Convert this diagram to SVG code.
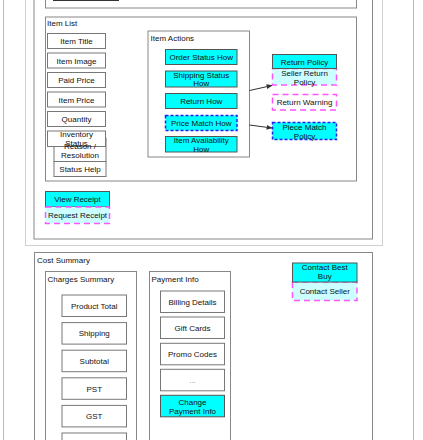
<svg xmlns="http://www.w3.org/2000/svg" width="423" height="440" viewBox="0 0 423 440">
<style>
text{font-family:"Liberation Sans",Arial,sans-serif;font-size:8px;fill:#111;}
.c{text-anchor:middle;}
.box{fill:#fff;stroke:#888;stroke-width:1;}
.cont{fill:none;stroke:#888;stroke-width:1;}
.field{fill:#fff;stroke:#777;stroke-width:1;}
.cyan{fill:#00ffff;stroke:#555;stroke-width:1;}
.lc{fill:#ccffff;stroke:#ff55ff;stroke-width:1.5;stroke-dasharray:6 4;}
.wm{fill:#fff;stroke:#ff55ff;stroke-width:1.5;stroke-dasharray:6 4;}
.bd{fill:#00ffff;stroke:#2222ee;stroke-width:1.5;stroke-dasharray:3 2;}
.conn{fill:none;stroke:#333;stroke-width:1;}
</style>
<defs>
<marker id="ah" viewBox="0 0 10 10" refX="9" refY="5" markerWidth="6" markerHeight="6" orient="auto" markerUnits="userSpaceOnUse">
<path d="M0,1 L10,5 L0,9 Z" fill="#333"/>
</marker>
</defs>
<rect width="423" height="440" fill="#fff"/>
<g id="outer">
<rect x="3.5" y="-20" width="410" height="490" fill="none" stroke="#bbb"/>
<rect x="25.5" y="-20" width="357" height="265.5" fill="none" stroke="#d0d0d0"/>
<rect x="34" y="-20" width="338.5" height="259" fill="none" stroke="#888"/>
</g>
<g id="top-box">
<rect x="45.5" y="-20" width="311" height="28" class="cont"/>
<rect x="53.5" y="-20" width="65" height="20.5" fill="none" stroke="#333"/>
</g>
<g id="item-list">
<rect x="45.5" y="17" width="311" height="164" class="cont"/>
<text x="47" y="25.5">Item List</text>
</g>
<g id="item-title"><rect x="47.5" y="33.5" width="58" height="15" class="field"/><text class="c" x="76.5" y="44">Item Title</text></g>
<g id="item-image"><rect x="47.5" y="53" width="58" height="15" class="field"/><text class="c" x="76.5" y="63.5">Item Image</text></g>
<g id="paid-price"><rect x="47.5" y="72.5" width="58" height="15" class="field"/><text class="c" x="76.5" y="83">Paid Price</text></g>
<g id="item-price"><rect x="47.5" y="92" width="58" height="15" class="field"/><text class="c" x="76.5" y="102.5">Item Price</text></g>
<g id="quantity"><rect x="47.5" y="111.5" width="58" height="15" class="field"/><text class="c" x="76.5" y="122">Quantity</text></g>
<g id="reason-resolution"><rect x="54" y="138" width="52" height="23.5" class="field"/></g>
<g id="inventory-status"><rect x="47.5" y="131" width="58" height="15.5" class="field"/><text class="c" x="76.5" y="137">Inventory</text><text class="c" x="76.5" y="145.5">Status</text></g>
<g id="reason-resolution-text"><text class="c" x="80" y="149">Reason /</text><text class="c" x="80" y="158">Resolution</text></g>
<g id="status-help"><rect x="54" y="161.5" width="52" height="15" class="field"/><text class="c" x="80" y="172">Status Help</text></g>
<g id="item-actions">
<rect x="148" y="31" width="101.5" height="126" class="box"/>
<text x="150.5" y="40.5">Item Actions</text>
</g>
<g id="order-status-how"><rect x="165.5" y="49.5" width="71.5" height="15" class="cyan"/><text class="c" x="201.25" y="60">Order Status How</text></g>
<g id="shipping-status-how"><rect x="165.5" y="71" width="71.5" height="16" class="cyan"/><text class="c" x="201.25" y="77.5">Shipping Status</text><text class="c" x="201.25" y="86">How</text></g>
<g id="return-how"><rect x="165.5" y="93.5" width="71.5" height="15" class="cyan"/><text class="c" x="201.25" y="104">Return How</text></g>
<g id="price-match-how"><rect x="165.5" y="115.5" width="71.5" height="15" class="bd"/><text class="c" x="201.25" y="126">Price Match How</text></g>
<g id="item-availability-how"><rect x="165.5" y="136.5" width="71.5" height="15.5" class="cyan"/><text class="c" x="201.25" y="143">Item Availability</text><text class="c" x="201.25" y="151.5">How</text></g>
<g id="seller-return-policy"><rect x="272.5" y="68.5" width="64" height="16.5" class="lc"/><text class="c" x="304.5" y="76">Seller Return</text><text class="c" x="304.5" y="85">Policy</text></g>
<g id="return-policy"><rect x="272.5" y="54.5" width="64" height="14" class="cyan"/><text class="c" x="304.5" y="64.5">Return Policy</text></g>
<g id="return-warning"><rect x="272.5" y="94.5" width="64" height="15.5" class="wm"/><text class="c" x="304.5" y="105">Return Warning</text></g>
<g id="piece-match-policy"><rect x="272.5" y="122.5" width="64" height="17" class="bd"/><text class="c" x="304.5" y="129.5">Piece Match</text><text class="c" x="304.5" y="138.5">Policy</text></g>
<g id="connectors">
<path class="conn" d="M249.5,90.5 L272,85.5" marker-end="url(#ah)"/>
<path class="conn" d="M249.5,125 L272,128" marker-end="url(#ah)"/>
</g>
<g id="view-receipt"><rect x="45.5" y="191.5" width="64" height="15.5" class="cyan"/><text class="c" x="77.5" y="202">View Receipt</text></g>
<g id="request-receipt"><rect x="45.5" y="207" width="64" height="16.5" class="lc"/><text class="c" x="77.5" y="218">Request Receipt</text></g>
<g id="cost-summary">
<rect x="34.5" y="252.5" width="338" height="210" class="cont"/>
<text x="37" y="262.5">Cost Summary</text>
</g>
<g id="charges-summary">
<rect x="45.5" y="271.5" width="91" height="190" class="box"/>
<text x="47.5" y="282">Charges Summary</text>
</g>
<g id="product-total"><rect x="62" y="295" width="64.5" height="21.5" class="field"/><text class="c" x="94.25" y="308.7">Product Total</text></g>
<g id="shipping"><rect x="62" y="322.6" width="64.5" height="21.5" class="field"/><text class="c" x="94.25" y="336.3">Shipping</text></g>
<g id="subtotal"><rect x="62" y="350.2" width="64.5" height="21.5" class="field"/><text class="c" x="94.25" y="363.9">Subtotal</text></g>
<g id="pst"><rect x="62" y="377.8" width="64.5" height="21.5" class="field"/><text class="c" x="94.25" y="391.5">PST</text></g>
<g id="gst"><rect x="62" y="405.4" width="64.5" height="21.5" class="field"/><text class="c" x="94.25" y="419.1">GST</text></g>
<g id="charge-next"><rect x="62" y="433" width="64.5" height="21.5" class="field"/></g>
<g id="payment-info">
<rect x="149.5" y="271.5" width="81" height="190" class="box"/>
<text x="151.5" y="282">Payment Info</text>
</g>
<g id="billing-details"><rect x="160.5" y="291" width="64" height="21.5" class="field"/><text class="c" x="192.5" y="304.7">Billing Details</text></g>
<g id="gift-cards"><rect x="160.5" y="317" width="64" height="21.5" class="field"/><text class="c" x="192.5" y="330.7">Gift Cards</text></g>
<g id="promo-codes"><rect x="160.5" y="343.3" width="64" height="21.5" class="field"/><text class="c" x="192.5" y="357">Promo Codes</text></g>
<g id="more"><rect x="160.5" y="369.3" width="64" height="21.5" class="field"/><text class="c" x="192.5" y="383" style="fill:#888">...</text></g>
<g id="change-payment-info"><rect x="160.5" y="395.3" width="64" height="21.5" class="cyan"/><text class="c" x="192.5" y="404.5">Change</text><text class="c" x="192.5" y="413.5">Payment Info</text></g>
<g id="contact-seller"><rect x="292.5" y="282" width="64.5" height="18.5" class="lc"/><text class="c" x="324.75" y="293.5">Contact Seller</text></g>
<g id="contact-best-buy"><rect x="292.5" y="263" width="64.5" height="19" class="cyan"/><text class="c" x="324.75" y="269.5">Contact Best</text><text class="c" x="324.75" y="278.5">Buy</text></g>
</svg>
